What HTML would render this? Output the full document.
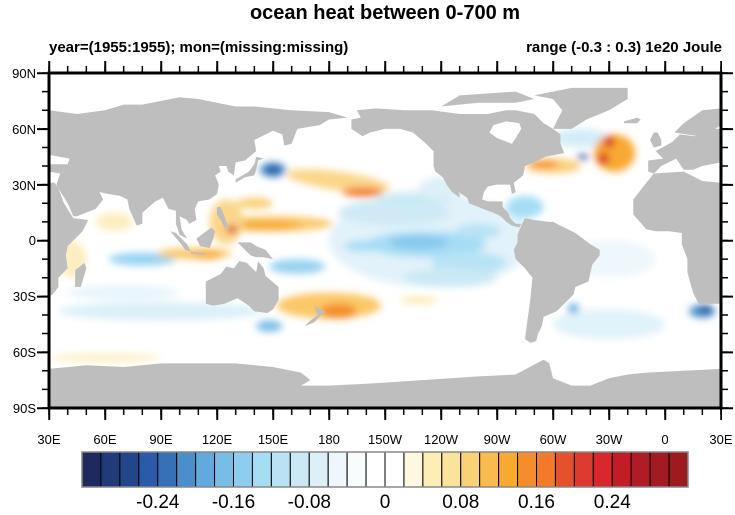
<!DOCTYPE html>
<html><head><meta charset="utf-8"><style>
html,body{margin:0;padding:0;background:#fff;}
svg text{font-family:"Liberation Sans",Arial,sans-serif;}
</style></head><body>
<svg width="735" height="510" xmlns="http://www.w3.org/2000/svg">
<rect width="735" height="510" fill="#fff"/>
<text x="385" y="19" font-size="20" font-weight="bold" text-anchor="middle">ocean heat between 0-700 m</text>
<text x="49" y="52" font-size="15" font-weight="bold">year=(1955:1955); mon=(missing:missing)</text>
<text x="722" y="52" font-size="15" font-weight="bold" text-anchor="end">range (-0.3 : 0.3) 1e20 Joule</text>

<svg x="49" y="73" width="672" height="335" viewBox="30 -90 360 180" preserveAspectRatio="none">
<defs><filter id="b" x="-50%" y="-50%" width="200%" height="200%"><feGaussianBlur stdDeviation="2"/></filter></defs>
<rect x="30" y="-90" width="360" height="180" fill="#fff"/>
<g filter="url(#b)">
<!-- broad cold -->
<ellipse cx="235" cy="0" rx="55" ry="25" fill="#e2f2fa"/>
<ellipse cx="215" cy="-15" rx="30" ry="7" fill="#cfeaf6"/>
<ellipse cx="225" cy="-22" rx="20" ry="4" fill="#cbe9f4"/>
<ellipse cx="232" cy="2" rx="32" ry="7" fill="#a5ddf5"/>
<ellipse cx="228" cy="1" rx="16" ry="3.5" fill="#86c8ec"/>
<ellipse cx="200" cy="3" rx="12" ry="3" fill="#a5ddf5"/>
<ellipse cx="260" cy="-5" rx="12" ry="4" fill="#b8e3f5"/>
<ellipse cx="255" cy="12" rx="20" ry="6" fill="#b8e3f5"/>
<ellipse cx="163" cy="14" rx="15" ry="4" fill="#98d3f2"/>
<ellipse cx="245" cy="20" rx="25" ry="5" fill="#cbe9f4"/>
<ellipse cx="240" cy="-28" rx="12" ry="6" fill="#ddf0f8"/>
<ellipse cx="80" cy="10" rx="18" ry="3.5" fill="#98d3f2"/>
<ellipse cx="90" cy="38" rx="55" ry="5" fill="#dcf0f8"/>
<ellipse cx="70" cy="28" rx="30" ry="4" fill="#e8f5fb"/>
<ellipse cx="148" cy="46" rx="7" ry="3" fill="#78bde6"/>
<ellipse cx="285" cy="-18" rx="10" ry="6" fill="#a5ddf5"/>
<ellipse cx="315" cy="-55" rx="15" ry="5" fill="#d4ecf7"/>
<ellipse cx="311" cy="37" rx="3" ry="3" fill="#62aadd"/>
<ellipse cx="330" cy="45" rx="30" ry="8" fill="#e0f2fa"/>
<ellipse cx="330" cy="10" rx="25" ry="10" fill="#eef7fb"/>
<ellipse cx="380" cy="38" rx="7" ry="3.5" fill="#4a8fcc"/>
<ellipse cx="382" cy="37" rx="3" ry="2" fill="#23468a"/>
<ellipse cx="150" cy="-38" rx="7" ry="4" fill="#4a8fcc"/>
<ellipse cx="150" cy="-38" rx="4" ry="2.5" fill="#2a5ba8"/>
<!-- warm -->
<ellipse cx="185" cy="-32" rx="28" ry="5" fill="#fbd58a" transform="rotate(8 185 -32)"/>
<ellipse cx="198" cy="-26" rx="11" ry="2.5" fill="#f27a2a"/>
<ellipse cx="150" cy="-9" rx="32" ry="4" fill="#fbc868"/>
<ellipse cx="145" cy="-8" rx="20" ry="2.5" fill="#f8a930"/>
<ellipse cx="125" cy="-10" rx="9" ry="12" fill="#fbd58a"/>
<ellipse cx="128" cy="-6" rx="3" ry="2" fill="#d7292b"/>
<ellipse cx="140" cy="-20" rx="10" ry="3" fill="#fbd07a"/>
<ellipse cx="108" cy="7" rx="20" ry="3" fill="#fbc868"/>
<ellipse cx="115" cy="8" rx="8" ry="2" fill="#f8a930"/>
<ellipse cx="65" cy="-10" rx="10" ry="5" fill="#fdeec0"/>
<ellipse cx="42" cy="10" rx="8" ry="10" fill="#fdeec0"/>
<ellipse cx="180" cy="35" rx="28" ry="7" fill="#fbc868"/>
<ellipse cx="185" cy="38" rx="10" ry="4" fill="#f68d2c"/>
<ellipse cx="60" cy="63" rx="30" ry="2" fill="#fdeec0"/>
<ellipse cx="228" cy="32" rx="10" ry="2" fill="#fdeab0"/>
<ellipse cx="300" cy="-40" rx="15" ry="4" fill="#fbd07a"/>
<ellipse cx="295" cy="-41" rx="8" ry="2" fill="#f68d2c"/>
<ellipse cx="333" cy="-47" rx="11" ry="10" fill="#f8a930"/>
<ellipse cx="330" cy="-53" rx="3" ry="3" fill="#d7292b"/>
<ellipse cx="327" cy="-44" rx="3" ry="3" fill="#d7292b"/>
<ellipse cx="316" cy="-45" rx="3" ry="1.5" fill="#2a5ba8"/>
</g>
<g fill="#bebebe">
<polygon points="30,-70 45,-68 60,-70 70,-73 80,-73 100,-77 110,-76 130,-72 140,-72 160,-70 180,-69 190,-66 180,-65 175,-62 163,-60 160,-52 156,-51 155,-57 150,-59 140,-54 141,-48 135,-43 130,-42 129,-35 126,-37 125,-40 121,-40 122,-37 119,-35 121,-30 120,-25 116,-22 110,-21 108,-17 109,-11 105,-9 104,-11 100,-13 101,-6 104,-1 100,-3 98,-9 98,-16 94,-17 91,-23 87,-21 80,-15 80,-9 77,-8 73,-17 72,-22 68,-24 62,-25 57,-26 59,-22 55,-17 45,-13 43,-13 40,-20 35,-28 34,-30 36,-36 30,-37 30,-41 40,-41 41,-44 30,-46"/>
<polygon points="30,-31 33,-31 35,-28 38,-20 43,-12 51,-11 48,-5 40,3 39,8 40,15 35,20 35,25 32,29 30,30"/>
<polygon points="44,25 47,25 50,15 49,12 44,16"/>
<polygon points="390,-31 380,-32 370,-37 354,-36 350,-31 343,-22 343,-14 350,-6 355,-5 362,-5 369,-4 369,2 372,10 372,17 375,28 378,34 390,34"/>
<polygon points="351,-37 351,-43 359,-44 355,-48 364,-53 368,-57 376,-56 383,-60 390,-60 390,-42 380,-40 375,-38 370,-38 366,-44 358,-40 354,-36"/>
<polygon points="365,-58 370,-63 380,-70 390,-71 390,-62 384,-58 378,-56"/>
<polygon points="354,-50 358,-51 358,-54 356,-58 354,-58 352,-54"/>
<polygon points="338,-64 345,-66 347,-65 345,-63 338,-63"/>
<polygon points="192,-60 192,-65 197,-66 195,-70 205,-71 220,-70 235,-70 250,-68 265,-68 275,-70 280,-70 290,-68 295,-63 300,-60 304,-57 304,-52 306,-47 296,-45 290,-42 285,-40 284,-35 279,-31 280,-26 278,-25 277,-30 275,-30 270,-30 265,-29 263,-26 262,-22 265,-21 267,-21 273,-21 273,-18 276,-15 277,-12 280,-9 283,-9 282,-7 278,-8 275,-10 272,-13 268,-15 265,-16 255,-20 254,-23 248,-27 246,-31 250,-25 250,-23 246,-26 243,-30 241,-34 237,-37 236,-40 236,-48 232,-52 225,-58 218,-60 210,-60 202,-58 198,-56 195,-58"/>
<polygon points="300,-60 310,-60 318,-65 330,-70 340,-76 340,-82 310,-82 290,-78 300,-76 305,-70"/>
<polygon points="240,-72 260,-74 280,-74 290,-76 280,-80 250,-78"/>
<polygon points="30,69 50,67 70,68 90,66 110,66 130,66 150,68 165,71 170,75 165,78 180,78 200,77 230,75 260,73 280,72 295,64 298,66 300,74 310,78 320,78 330,74 340,72 350,71 370,70 390,69 390,90 30,90"/>
<polygon points="285,-12 290,-11 298,-10 300,-10 308,-6 312,-4 320,2 325,5 325,8 321,13 319,22 312,25 311,29 305,35 302,38 295,41 294,46 292,50 291,54 288,55 285,53 286,45 287,38 288,30 289,20 285,15 280,10 279,5 281,1 281,-3 283,-8"/>
<polygon points="114,22 114,34 118,35 124,34 131,31 137,35 140,38 147,39 150,37 153,32 153,25 146,19 145,15 142,11 141,17 136,12 132,11 129,15 125,14 122,18"/>
<polygon points="172,35 175,37 178,38 175,41 172,44 167,46 170,43 174,40"/>
<polygon points="131,1 138,1 141,3 146,5 150,10 145,9 141,9 138,8 134,4"/>
<polygon points="109,-1 113,-4 117,-7 119,-5 118,-1 116,4 111,3 110,1"/>
<polygon points="95,-5 98,-4 104,2 106,6 103,5 100,1"/>
<polygon points="106,6 114,7 114,8 106,7"/>
<polygon points="120,-18 122,-18 124,-13 126,-7 124,-7 122,-11 120,-14"/>
<polygon points="130,-31 135,-34 140,-35 141,-38 142,-43 145,-44 141,-45 140,-41 137,-37 132,-34 130,-33"/>
</g>
<polygon points="266,-58 270,-55 278,-52 280,-55 283,-60 282,-63 275,-64 268,-62" fill="#fff"/>
</svg>

<g stroke="#000" fill="none">
<rect x="49" y="73" width="672" height="335" stroke-width="3"/>
<line x1="48.25" y1="69.5" x2="722" y2="69.5" stroke-width="7" stroke-dasharray="1.5 17.167"/>
<line x1="48.25" y1="67" x2="722" y2="67" stroke-width="12" stroke-dasharray="2 54"/>
<line x1="48.25" y1="411.5" x2="722" y2="411.5" stroke-width="7" stroke-dasharray="1.5 17.167"/>
<line x1="48.25" y1="414" x2="722" y2="414" stroke-width="12" stroke-dasharray="2 54"/>
<line x1="45.5" y1="72.25" x2="45.5" y2="410" stroke-width="7" stroke-dasharray="1.5 17.111"/>
<line x1="43" y1="72.25" x2="43" y2="410" stroke-width="12" stroke-dasharray="2 53.833"/>
<line x1="724.5" y1="72.25" x2="724.5" y2="410" stroke-width="7" stroke-dasharray="1.5 17.111"/>
<line x1="727" y1="72.25" x2="727" y2="410" stroke-width="12" stroke-dasharray="2 53.833"/>
</g>
<g font-size="13" text-anchor="end">
<text x="36" y="78">90N</text><text x="36" y="134">60N</text><text x="36" y="190">30N</text><text x="36" y="245">0</text><text x="36" y="301">30S</text><text x="36" y="357">60S</text><text x="36" y="413">90S</text>
</g>
<g font-size="13" text-anchor="middle">
<text x="49" y="444">30E</text><text x="105" y="444">60E</text><text x="161" y="444">90E</text><text x="217" y="444">120E</text><text x="273" y="444">150E</text><text x="329" y="444">180</text><text x="385" y="444">150W</text><text x="441" y="444">120W</text><text x="497" y="444">90W</text><text x="553" y="444">60W</text><text x="609" y="444">30W</text><text x="665" y="444">0</text><text x="721" y="444">30E</text>
</g>

<g stroke="#000" stroke-width="1">
<rect x="82.00" y="452" width="18.94" height="35" fill="#1e2a5e"/>
<rect x="100.94" y="452" width="18.94" height="35" fill="#213b7a"/>
<rect x="119.88" y="452" width="18.94" height="35" fill="#23468a"/>
<rect x="138.81" y="452" width="18.94" height="35" fill="#2a5ba8"/>
<rect x="157.75" y="452" width="18.94" height="35" fill="#3671b8"/>
<rect x="176.69" y="452" width="18.94" height="35" fill="#4a8fcc"/>
<rect x="195.63" y="452" width="18.94" height="35" fill="#62aadd"/>
<rect x="214.56" y="452" width="18.94" height="35" fill="#78bde6"/>
<rect x="233.50" y="452" width="18.94" height="35" fill="#8dcef0"/>
<rect x="252.44" y="452" width="18.94" height="35" fill="#a5ddf5"/>
<rect x="271.38" y="452" width="18.94" height="35" fill="#b8e3f5"/>
<rect x="290.31" y="452" width="18.94" height="35" fill="#cbe9f4"/>
<rect x="309.25" y="452" width="18.94" height="35" fill="#ddf0f8"/>
<rect x="328.19" y="452" width="18.94" height="35" fill="#eef7fb"/>
<rect x="347.13" y="452" width="18.94" height="35" fill="#f8fcfd"/>
<rect x="366.06" y="452" width="18.94" height="35" fill="#ffffff"/>
<rect x="385.00" y="452" width="18.94" height="35" fill="#ffffff"/>
<rect x="403.94" y="452" width="18.94" height="35" fill="#fff8e0"/>
<rect x="422.88" y="452" width="18.94" height="35" fill="#fdeeb5"/>
<rect x="441.81" y="452" width="18.94" height="35" fill="#fae39a"/>
<rect x="460.75" y="452" width="18.94" height="35" fill="#f9d278"/>
<rect x="479.69" y="452" width="18.94" height="35" fill="#f9bb4e"/>
<rect x="498.63" y="452" width="18.94" height="35" fill="#f8a930"/>
<rect x="517.56" y="452" width="18.94" height="35" fill="#f68d2c"/>
<rect x="536.50" y="452" width="18.94" height="35" fill="#f27a2a"/>
<rect x="555.44" y="452" width="18.94" height="35" fill="#e5502d"/>
<rect x="574.38" y="452" width="18.94" height="35" fill="#dc3a2e"/>
<rect x="593.31" y="452" width="18.94" height="35" fill="#d7292b"/>
<rect x="612.25" y="452" width="18.94" height="35" fill="#c21d26"/>
<rect x="631.19" y="452" width="18.94" height="35" fill="#b01c25"/>
<rect x="650.13" y="452" width="18.94" height="35" fill="#a31b22"/>
<rect x="669.06" y="452" width="18.94" height="35" fill="#9b1b1f"/>
</g>
<rect x="82" y="452" width="606" height="35" fill="none" stroke="#888" stroke-width="1.5"/>
<g font-size="19" text-anchor="middle">
<text x="157.8" y="508">-0.24</text><text x="233.5" y="508">-0.16</text><text x="309.3" y="508">-0.08</text><text x="385" y="508">0</text><text x="460.8" y="508">0.08</text><text x="536.5" y="508">0.16</text><text x="612.3" y="508">0.24</text>
</g>
</svg>
</body></html>
